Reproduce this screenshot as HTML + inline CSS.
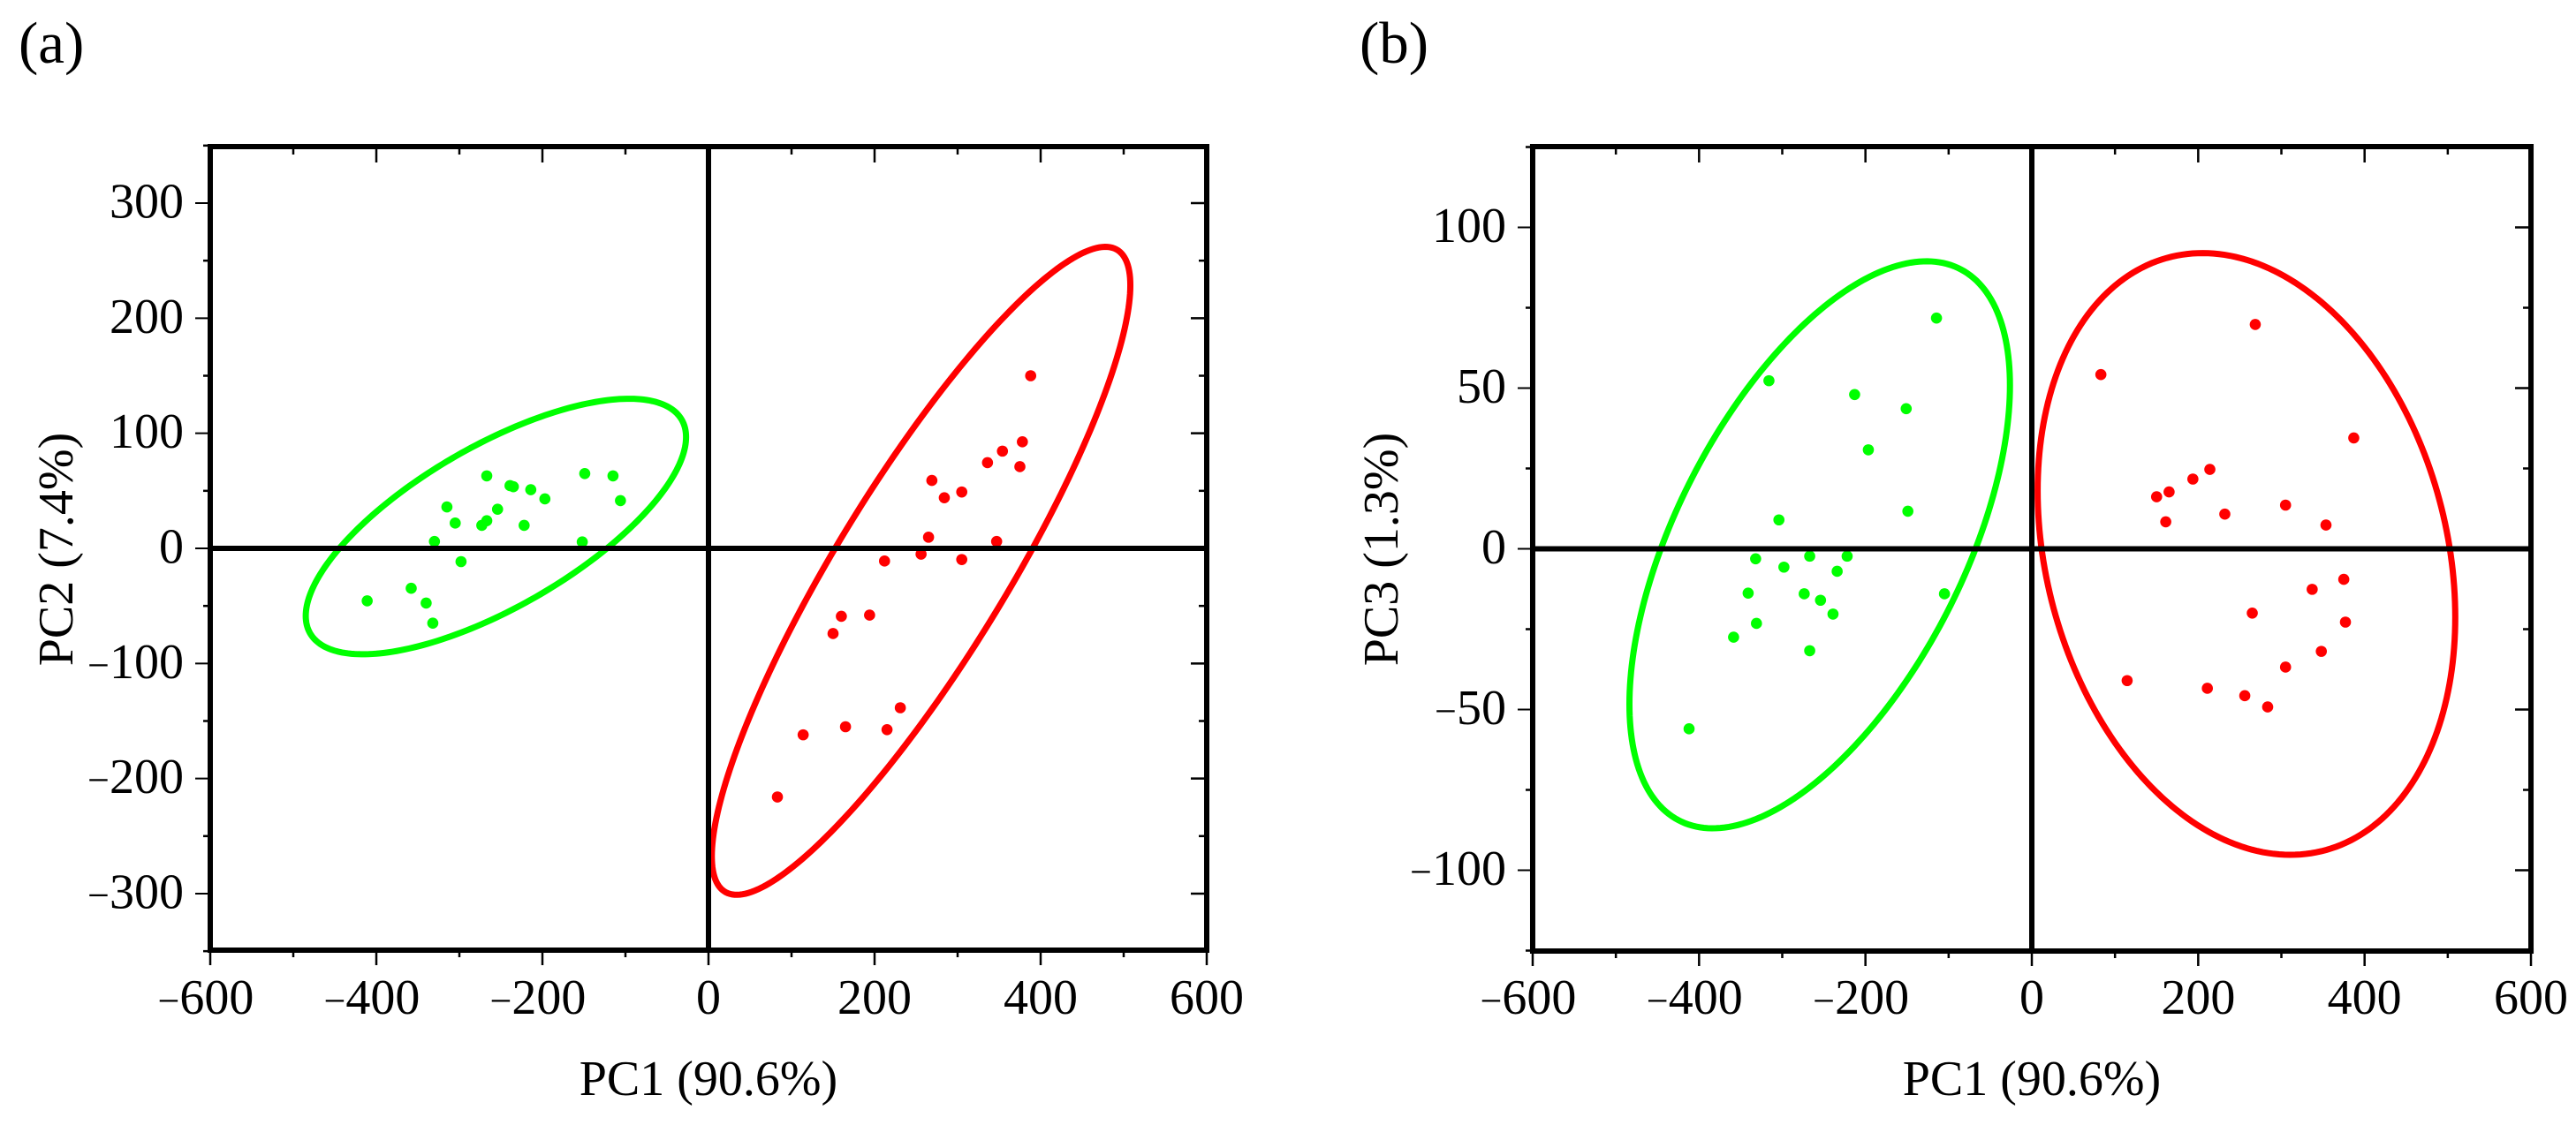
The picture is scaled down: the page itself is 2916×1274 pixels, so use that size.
<!DOCTYPE html>
<html lang="en">
<head>
<meta charset="utf-8">
<title>PCA score plots</title>
<style>
html,body{margin:0;padding:0;background:#fff}
svg{display:block}
text{font-family:"Liberation Serif",serif;fill:#000}
</style>
</head>
<body>
<svg id="figure" xmlns="http://www.w3.org/2000/svg" width="2916" height="1274" viewBox="0 0 2916 1274">
<rect width="2916" height="1274" fill="#fff"/>
<g id="panel-a"></g>
<g id="panel-b"></g>
<text x="21" y="71" font-size="67">(a)</text>
<text x="1539" y="71" font-size="67">(b)</text>
<text x="802" y="1240" font-size="56" text-anchor="middle">PC1 (90.6%)</text>
<text x="2300" y="1240" font-size="56" text-anchor="middle">PC1 (90.6%)</text>
<text transform="translate(82,622) rotate(-90)" font-size="56" text-anchor="middle">PC2 (7.4%)</text>
<text transform="translate(1582,622) rotate(-90)" font-size="56" text-anchor="middle">PC3 (1.3%)</text>
</svg>
<script>
// Shared PC1 axis
const pc1TickValues = [-600,-400,-200,0,200,400,600];
const pc1TickLabels = ["−600","−400","−200","0","200","400","600"];
const pc1MinorTicks = [-500,-300,-100,100,300,500];

// Panel (a) y axis
const pc2TickValues = [-300,-200,-100,0,100,200,300];
const pc2TickLabels = ["−300","−200","−100","0","100","200","300"];
const pc2MinorTicks = [-350,-250,-150,-50,50,150,250,350];

// Panel (b) y axis
const pc3TickValues = [-100,-50,0,50,100];
const pc3TickLabels = ["−100","−50","0","50","100"];
const pc3MinorTicks = [-125,-75,-25,25,75,125];

// Panel (a) scores
const greenPc1A = [-267,-149,-115,-239,-235,-214,-197,-106,-315,-254,-305,-267,-273,-222,-330,-152,-298,-411,-358,-340,-332];
const greenPc2A = [63,65,63,54.5,53.6,51,43,41.5,36,34,22,24,20,20,6,5.6,-11.5,-45.6,-34.7,-47.5,-65];
const redPc1A = [388,378,354,336,375,269,305,284,265,347,256,212,305,160,194,150,231,114,165,215,83];
const redPc2A = [150,92.6,84.5,74.5,71,59,49,44,9.7,6,-5,-11,-9.7,-59,-58,-74,-138.5,-162,-155,-157.5,-216];

// Panel (b) scores
const greenPc1B = [-114.6,-316,-213,-151,-196.5,-149,-304,-332,-267,-222,-298,-234,-341,-273.6,-254,-105,-239,-331,-358.5,-267,-412];
const greenPc3B = [71.8,52.3,48,43.6,30.8,11.7,9,-3.1,-2.3,-2.3,-5.7,-7,-13.8,-14,-16,-14,-20.3,-23.2,-27.5,-31.7,-56];
const redPc1B = [268.6,83,387,214,193.6,165,150,305,232,353.6,161,375,337,265,377,348,305,114.6,211,256,283.5];
const redPc3B = [69.8,54.2,34.5,24.7,21.7,17.7,16.2,13.6,10.8,7.4,8.4,-9.5,-12.6,-20,-22.8,-31.9,-36.8,-41,-43.4,-45.7,-49.2];

// Confidence ellipses: centre x, centre y, half-extent x, half-extent y, correlation
const greenEllipseA = [-256,19,229,111,0.70];
const redEllipseA = [256,-19.5,252,281.5,0.881];
const greenEllipseB = [-255,1.25,228.7,88.2,0.562];
const redEllipseB = [258,-1.6,251,93.6,-0.21];

const SVGNS = "http://www.w3.org/2000/svg";

function make(parent, tag, attrs) {
  const el = document.createElementNS(SVGNS, tag);
  for (const k in attrs) el.setAttribute(k, attrs[k]);
  parent.appendChild(el);
  return el;
}

function drawEllipse(g, params, xs, ys, color) {
  const [cx, cy, ax, ay, rho] = params;
  const q = Math.sqrt(1 - rho * rho);
  let d = "";
  for (let i = 0; i < 240; i++) {
    const t = i / 240 * 2 * Math.PI;
    const px = xs(cx + ax * Math.cos(t));
    const py = ys(cy + ay * (rho * Math.cos(t) + q * Math.sin(t)));
    d += (i ? "L" : "M") + px.toFixed(2) + " " + py.toFixed(2);
  }
  const el = make(g, "path", {d: d + "Z", fill: "none", stroke: color, "stroke-width": 7});
  
  
}

function drawPoints(g, xv, yv, xs, ys, color) {
  xv.forEach(function (v, i) {
    const el = make(g, "circle", {cx: xs(v), cy: ys(yv[i]), r: 6.3, fill: color});
    
    
  });
}

function addLabel(g, text, x, y, anchor) {
  const t = make(g, "text", {x: x, y: y, "font-size": 56, "text-anchor": anchor});
  
  
  if (text[0] === "−") {
    const m = make(t, "tspan", {"font-size": 44});
    m.textContent = "−";
    t.appendChild(document.createTextNode(text.slice(1)));
  } else {
    t.textContent = text;
  }
}

function drawPanel(id, cfg) {
  const g = document.getElementById(id);
  const xs = function (v) { return cfg.x0 + v * cfg.kx; };
  const ys = function (v) { return cfg.y0 - v * cfg.ky; };
  const L = xs(-600), R = xs(600), T = cfg.top, B = cfg.bottom;

  cfg.ellipses.forEach(function (e) { drawEllipse(g, e[0], xs, ys, e[1]); });
  cfg.points.forEach(function (p) { drawPoints(g, p[0], p[1], xs, ys, p[2]); });

  function line(x1, y1, x2, y2, w, name) {
    const el = make(g, "line", {x1: x1, y1: y1, x2: x2, y2: y2, stroke: "#000", "stroke-width": w});
    
    
  }

  // x ticks
  pc1TickValues.forEach(function (v, i) {
    line(xs(v), B, xs(v), B + 17, 2.5, 'x-major-tick');
    line(xs(v), T, xs(v), T + 18, 2.5, 'x-major-tick-top');
    addLabel(g, pc1TickLabels[i], xs(v) + (v < 0 ? -5 : 0), 1148, "middle");
  });
  pc1MinorTicks.forEach(function (v) {
    line(xs(v), B, xs(v), B + 8, 2.5, 'x-minor-tick');
    line(xs(v), T, xs(v), T + 9, 2.5, 'x-minor-tick-top');
  });
  // y ticks
  cfg.yTicks.forEach(function (v, i) {
    line(L, ys(v), L - 17, ys(v), 2, 'y-major-tick');
    line(R, ys(v), R - 18, ys(v), 2.5, 'y-major-tick-right');
    addLabel(g, cfg.yLabels[i], L - cfg.labelGap, ys(v) + 16.5, "end");
  });
  cfg.yMinor.forEach(function (v) {
    line(L, ys(v), L - 8, ys(v), 2.5, 'y-minor-tick');
    line(R, ys(v), R - 9, ys(v), 2.5, 'y-minor-tick-right');
  });
  // zero lines
  line(xs(0), T, xs(0), B, 6, 'vertical-zero-line');
  line(L, ys(0), R, ys(0), 6, 'horizontal-zero-line');
  // frame
  line(L, T - 3, L, B + 3, 6, 'frame-left');
  line(R, T - 3, R, B + 3, 6, 'frame-right');
  line(L - 3, T, R + 3, T, 6, 'frame-top');
  line(L - 3, B, R + 3, B, 6, 'frame-bottom');
}

drawPanel("panel-a", {
  x0: 802, kx: 0.94, y0: 621, ky: 1.3033, top: 166, bottom: 1076, labelGap: 30,
  yTicks: pc2TickValues, yLabels: pc2TickLabels, yMinor: pc2MinorTicks,
  ellipses: [[greenEllipseA, "#00ff00"], [redEllipseA, "#ff0000"]],
  points: [[greenPc1A, greenPc2A, "#00ff00"], [redPc1A, redPc2A, "#ff0000"]]
});
drawPanel("panel-b", {
  x0: 2300, kx: 0.9417, y0: 621.5, ky: 3.64, top: 166, bottom: 1077, labelGap: 30,
  yTicks: pc3TickValues, yLabels: pc3TickLabels, yMinor: pc3MinorTicks,
  ellipses: [[greenEllipseB, "#00ff00"], [redEllipseB, "#ff0000"]],
  points: [[greenPc1B, greenPc3B, "#00ff00"], [redPc1B, redPc3B, "#ff0000"]]
});
</script>
</body>
</html>
